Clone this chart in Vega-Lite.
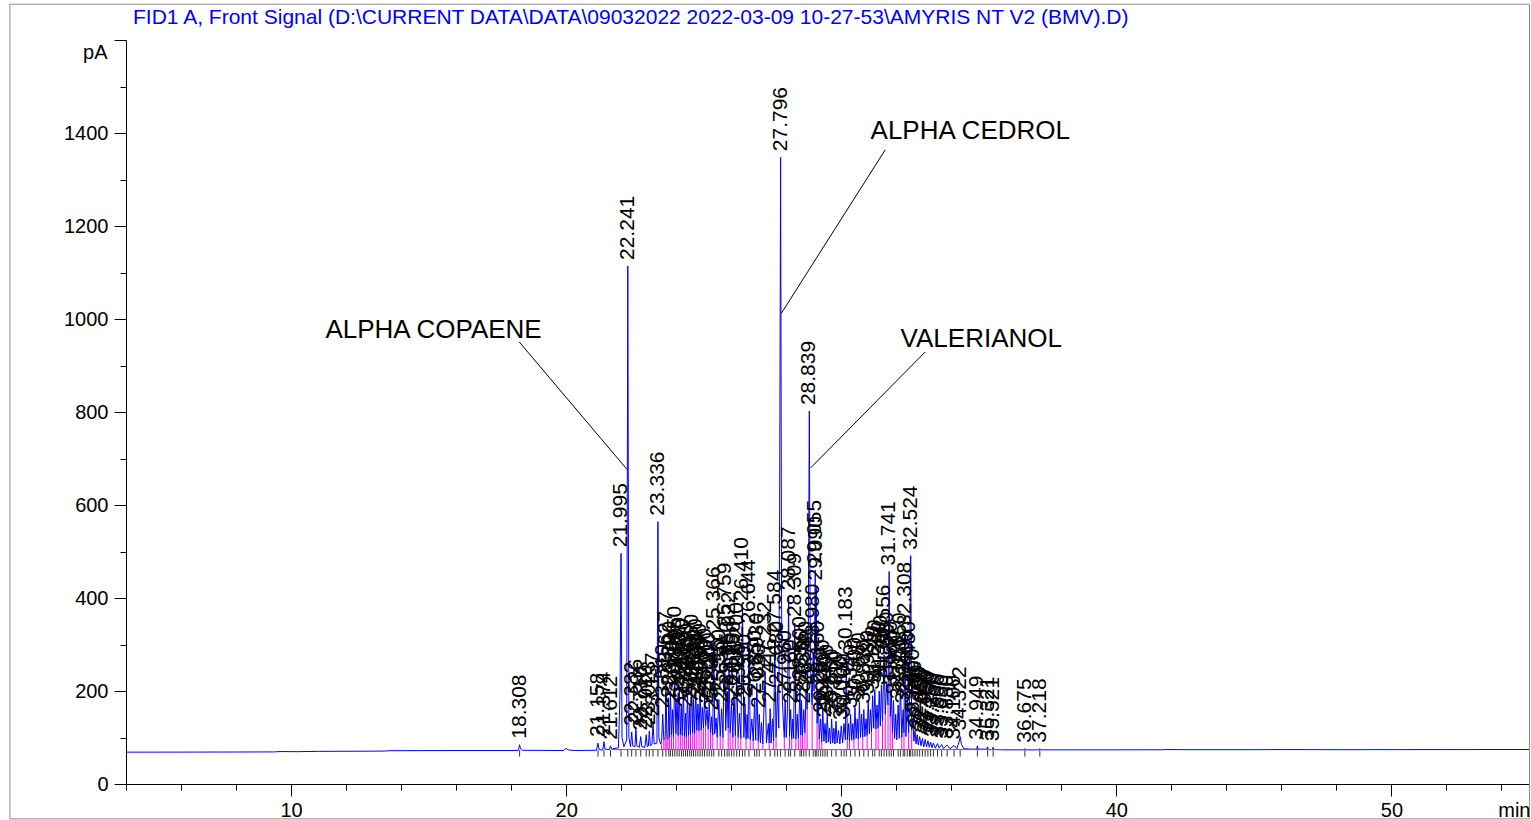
{
"$schema": "https://vega.github.io/schema/vega-lite/v6.json",
"width": 1403,
"height": 744,
"autosize": {"type": "none"},
"padding": {"left": 126, "top": 40, "right": 2, "bottom": 36},
"background": "white",
"config": {"view": {"stroke": null}, "font": "Liberation Sans",
  "axis": {"labelFont": "Liberation Sans", "titleFont": "Liberation Sans", "domainColor": "#000000", "tickColor": "#000000", "labelColor": "#000000", "titleColor": "#000000", "grid": false, "titleFontWeight": "normal"}},
"title": {"text": "FID1 A, Front Signal (D:\\CURRENT DATA\\DATA\\09032022 2022-03-09 10-27-53\\AMYRIS NT V2 (BMV).D)", "anchor": "start", "frame": "group", "dx": 7, "offset": -24, "color": "#0000ff", "fontSize": 21, "fontWeight": "normal", "font": "Liberation Sans"},
"datasets": {
"signal": [
{"t":4,"v":68.5},{"t":6,"v":68.6},{"t":8,"v":68.8},{"t":9.4,"v":69},{"t":9.6,"v":69.8},{"t":10.2,"v":69.5},{"t":11,"v":70.2},{"t":12.5,"v":70.5},{"t":13.4,"v":70.8},{"t":13.6,"v":71.6},{"t":16,"v":72},{"t":18.25,"v":72},{"t":18.29,"v":79},{"t":18.308,"v":84.5},{"t":18.34,"v":76},{"t":18.42,"v":72.5},{"t":19.9,"v":72},{"t":20.0,"v":76.5},{"t":20.1,"v":73},{"t":20.3,"v":72},{"t":21.1,"v":72.5},{"t":21.158,"v":88},{"t":21.2,"v":74},{"t":21.33,"v":73},{"t":21.374,"v":91},{"t":21.41,"v":75},{"t":21.57,"v":74},{"t":21.612,"v":82},{"t":21.65,"v":75},{"t":21.9,"v":78},{"t":21.96,"v":200},{"t":21.995,"v":496},{"t":22.03,"v":100},{"t":22.1,"v":80},{"t":22.2,"v":95},{"t":22.241,"v":1114},{"t":22.28,"v":100},{"t":22.34,"v":80},{"t":22.382,"v":112},{"t":22.42,"v":82},{"t":22.5,"v":80},{"t":22.536,"v":118},{"t":22.57,"v":82},{"t":22.66,"v":79},{"t":22.71,"v":102},{"t":22.75,"v":80},{"t":22.86,"v":79},{"t":22.91,"v":106},{"t":22.95,"v":80},{"t":22.99,"v":82},{"t":23.023,"v":114},{"t":23.06,"v":82},{"t":23.12,"v":85},{"t":23.157,"v":132},{"t":23.2,"v":86},{"t":23.3,"v":88},{"t":23.336,"v":564},{"t":23.37,"v":100},{"t":23.43,"v":86},{"t":23.47,"v":92},{"t":23.51,"v":150},{"t":23.55,"v":95},{"t":23.6,"v":100},{"t":23.627,"v":222},{"t":23.66,"v":102},{"t":23.7,"v":96},{"t":23.73,"v":172},{"t":23.76,"v":100},{"t":23.79,"v":200},{"t":23.83,"v":105},{"t":23.87,"v":160},{"t":23.9,"v":100},{"t":23.95,"v":232},{"t":23.99,"v":108},{"t":24.03,"v":185},{"t":24.07,"v":104},{"t":24.11,"v":212},{"t":24.15,"v":106},{"t":24.19,"v":172},{"t":24.22,"v":104},{"t":24.26,"v":205},{"t":24.3,"v":102},{"t":24.34,"v":152},{"t":24.37,"v":100},{"t":24.41,"v":195},{"t":24.45,"v":104},{"t":24.49,"v":168},{"t":24.52,"v":106},{"t":24.56,"v":215},{"t":24.6,"v":110},{"t":24.63,"v":182},{"t":24.67,"v":108},{"t":24.71,"v":205},{"t":24.75,"v":115},{"t":24.79,"v":172},{"t":24.83,"v":114},{"t":24.87,"v":195},{"t":24.91,"v":116},{"t":24.95,"v":165},{"t":24.99,"v":120},{"t":25.03,"v":185},{"t":25.07,"v":125},{"t":25.12,"v":160},{"t":25.16,"v":118},{"t":25.2,"v":175},{"t":25.25,"v":110},{"t":25.29,"v":145},{"t":25.33,"v":105},{"t":25.366,"v":317},{"t":25.4,"v":108},{"t":25.45,"v":142},{"t":25.49,"v":100},{"t":25.55,"v":182},{"t":25.6,"v":102},{"t":25.65,"v":162},{"t":25.7,"v":100},{"t":25.759,"v":325},{"t":25.8,"v":115},{"t":25.85,"v":200},{"t":25.89,"v":120},{"t":25.922,"v":262},{"t":25.96,"v":110},{"t":26.015,"v":172},{"t":26.06,"v":100},{"t":26.1,"v":200},{"t":26.15,"v":104},{"t":26.2,"v":240},{"t":26.25,"v":100},{"t":26.3,"v":152},{"t":26.35,"v":98},{"t":26.41,"v":380},{"t":26.46,"v":100},{"t":26.5,"v":172},{"t":26.54,"v":96},{"t":26.58,"v":150},{"t":26.61,"v":98},{"t":26.644,"v":332},{"t":26.69,"v":95},{"t":26.75,"v":140},{"t":26.8,"v":92},{"t":26.85,"v":180},{"t":26.89,"v":94},{"t":26.93,"v":217},{"t":26.98,"v":92},{"t":27.02,"v":150},{"t":27.06,"v":88},{"t":27.1,"v":132},{"t":27.15,"v":86},{"t":27.232,"v":242},{"t":27.28,"v":88},{"t":27.35,"v":130},{"t":27.38,"v":88},{"t":27.416,"v":162},{"t":27.45,"v":88},{"t":27.5,"v":140},{"t":27.54,"v":92},{"t":27.584,"v":310},{"t":27.63,"v":100},{"t":27.68,"v":200},{"t":27.73,"v":120},{"t":27.76,"v":600},{"t":27.796,"v":1348},{"t":27.83,"v":400},{"t":27.86,"v":180},{"t":27.9,"v":130},{"t":27.93,"v":100},{"t":27.96,"v":180},{"t":28.0,"v":100},{"t":28.04,"v":150},{"t":28.087,"v":403},{"t":28.12,"v":102},{"t":28.16,"v":160},{"t":28.2,"v":96},{"t":28.24,"v":140},{"t":28.27,"v":98},{"t":28.309,"v":346},{"t":28.35,"v":96},{"t":28.4,"v":150},{"t":28.44,"v":98},{"t":28.5,"v":210},{"t":28.53,"v":105},{"t":28.556,"v":180},{"t":28.59,"v":104},{"t":28.636,"v":160},{"t":28.68,"v":110},{"t":28.72,"v":200},{"t":28.76,"v":160},{"t":28.8,"v":300},{"t":28.839,"v":802},{"t":28.87,"v":330},{"t":28.9,"v":220},{"t":28.94,"v":170},{"t":28.98,"v":280},{"t":29.01,"v":200},{"t":29.055,"v":460},{"t":29.07,"v":280},{"t":29.09,"v":425},{"t":29.12,"v":130},{"t":29.16,"v":200},{"t":29.2,"v":96},{"t":29.25,"v":140},{"t":29.29,"v":90},{"t":29.33,"v":160},{"t":29.37,"v":92},{"t":29.41,"v":130},{"t":29.45,"v":88},{"t":29.49,"v":150},{"t":29.53,"v":90},{"t":29.57,"v":120},{"t":29.61,"v":86},{"t":29.65,"v":140},{"t":29.69,"v":88},{"t":29.73,"v":120},{"t":29.77,"v":86},{"t":29.81,"v":135},{"t":29.85,"v":88},{"t":29.9,"v":115},{"t":29.95,"v":86},{"t":30.0,"v":125},{"t":30.05,"v":88},{"t":30.1,"v":130},{"t":30.15,"v":95},{"t":30.183,"v":274},{"t":30.22,"v":95},{"t":30.26,"v":130},{"t":30.3,"v":92},{"t":30.34,"v":150},{"t":30.38,"v":94},{"t":30.42,"v":130},{"t":30.46,"v":95},{"t":30.5,"v":165},{"t":30.54,"v":98},{"t":30.58,"v":140},{"t":30.62,"v":96},{"t":30.66,"v":175},{"t":30.7,"v":100},{"t":30.74,"v":150},{"t":30.78,"v":100},{"t":30.82,"v":160},{"t":30.86,"v":102},{"t":30.9,"v":140},{"t":30.94,"v":104},{"t":30.98,"v":180},{"t":31.02,"v":108},{"t":31.06,"v":160},{"t":31.1,"v":112},{"t":31.14,"v":190},{"t":31.18,"v":120},{"t":31.22,"v":203},{"t":31.26,"v":118},{"t":31.3,"v":170},{"t":31.34,"v":120},{"t":31.38,"v":200},{"t":31.42,"v":125},{"t":31.46,"v":213},{"t":31.5,"v":135},{"t":31.556,"v":278},{"t":31.6,"v":150},{"t":31.65,"v":220},{"t":31.7,"v":170},{"t":31.741,"v":457},{"t":31.78,"v":145},{"t":31.82,"v":200},{"t":31.86,"v":110},{"t":31.9,"v":180},{"t":31.94,"v":98},{"t":31.98,"v":150},{"t":32.02,"v":95},{"t":32.07,"v":170},{"t":32.11,"v":98},{"t":32.15,"v":218},{"t":32.2,"v":100},{"t":32.25,"v":160},{"t":32.28,"v":110},{"t":32.308,"v":327},{"t":32.35,"v":102},{"t":32.4,"v":180},{"t":32.45,"v":110},{"t":32.48,"v":200},{"t":32.524,"v":491},{"t":32.56,"v":115},{"t":32.6,"v":140},{"t":32.64,"v":92},{"t":32.68,"v":115},{"t":32.72,"v":86},{"t":32.76,"v":106},{"t":32.8,"v":84},{"t":32.85,"v":102},{"t":32.9,"v":82},{"t":32.95,"v":98},{"t":33.0,"v":80},{"t":33.05,"v":96},{"t":33.1,"v":80},{"t":33.15,"v":93},{"t":33.2,"v":79},{"t":33.25,"v":90},{"t":33.3,"v":78},{"t":33.35,"v":88},{"t":33.42,"v":77},{"t":33.5,"v":87},{"t":33.56,"v":77},{"t":33.65,"v":85},{"t":33.72,"v":76},{"t":33.85,"v":84},{"t":33.95,"v":76},{"t":34.1,"v":83},{"t":34.2,"v":76},{"t":34.28,"v":90},{"t":34.322,"v":102},{"t":34.37,"v":85},{"t":34.45,"v":76},{"t":34.7,"v":75},{"t":34.92,"v":75},{"t":34.949,"v":82},{"t":34.98,"v":75},{"t":35.29,"v":75},{"t":35.321,"v":80},{"t":35.35,"v":74},{"t":35.49,"v":74},{"t":35.521,"v":79},{"t":35.55,"v":74},{"t":36.0,"v":73.5},{"t":36.65,"v":73.5},{"t":36.675,"v":76},{"t":36.7,"v":73.5},{"t":37.19,"v":73.5},{"t":37.218,"v":76},{"t":37.25,"v":73.5},{"t":38,"v":73.5},{"t":40,"v":73.5},{"t":41.6,"v":73.6},{"t":41.8,"v":74},{"t":42.5,"v":73.8},{"t":45,"v":73.8},{"t":46,"v":74},{"t":48,"v":73.8},{"t":52,"v":74},{"t":55,"v":74.2}
],
"peaks": [
{"rt":18.308,"h":84.5,"lo":59,"hi":73},{"rt":21.158,"h":88,"lo":59,"hi":73},{"rt":21.374,"h":91,"lo":59,"hi":73},{"rt":21.612,"h":82,"lo":59,"hi":73},{"rt":21.995,"h":496,"lo":59,"hi":73},{"rt":22.241,"h":1114,"lo":59,"hi":73},{"rt":22.382,"h":112,"lo":59,"hi":73},{"rt":22.536,"h":118,"lo":59,"hi":73},{"rt":22.71,"h":102,"lo":59,"hi":73},{"rt":22.91,"h":106,"lo":59,"hi":73},{"rt":23.023,"h":114,"lo":59,"hi":73},{"rt":23.157,"h":132,"lo":59,"hi":73},{"rt":23.336,"h":564,"lo":59,"hi":73},{"rt":23.51,"h":150,"lo":59,"hi":73},{"rt":23.627,"h":222,"lo":59,"hi":73},{"rt":23.73,"h":172,"lo":59,"hi":73},{"rt":23.79,"h":200,"lo":59,"hi":73},{"rt":23.87,"h":160,"lo":59,"hi":73},{"rt":23.95,"h":232,"lo":59,"hi":73},{"rt":24.03,"h":185,"lo":59,"hi":73},{"rt":24.11,"h":212,"lo":59,"hi":73},{"rt":24.19,"h":172,"lo":59,"hi":73},{"rt":24.26,"h":205,"lo":59,"hi":73},{"rt":24.34,"h":152,"lo":59,"hi":73},{"rt":24.41,"h":195,"lo":59,"hi":73},{"rt":24.49,"h":168,"lo":59,"hi":73},{"rt":24.56,"h":215,"lo":59,"hi":73},{"rt":24.63,"h":182,"lo":59,"hi":73},{"rt":24.71,"h":205,"lo":59,"hi":73},{"rt":24.79,"h":172,"lo":59,"hi":73},{"rt":24.87,"h":195,"lo":59,"hi":73},{"rt":24.95,"h":165,"lo":59,"hi":73},{"rt":25.03,"h":185,"lo":59,"hi":73},{"rt":25.12,"h":160,"lo":59,"hi":73},{"rt":25.2,"h":175,"lo":59,"hi":73},{"rt":25.29,"h":145,"lo":59,"hi":73},{"rt":25.366,"h":317,"lo":59,"hi":73},{"rt":25.55,"h":182,"lo":59,"hi":73},{"rt":25.65,"h":162,"lo":59,"hi":73},{"rt":25.759,"h":325,"lo":59,"hi":73},{"rt":25.85,"h":200,"lo":59,"hi":73},{"rt":25.922,"h":262,"lo":59,"hi":73},{"rt":26.015,"h":172,"lo":59,"hi":73},{"rt":26.1,"h":200,"lo":59,"hi":73},{"rt":26.2,"h":240,"lo":59,"hi":73},{"rt":26.3,"h":152,"lo":59,"hi":73},{"rt":26.41,"h":380,"lo":59,"hi":73},{"rt":26.5,"h":172,"lo":59,"hi":73},{"rt":26.644,"h":332,"lo":59,"hi":73},{"rt":26.85,"h":180,"lo":59,"hi":73},{"rt":26.93,"h":217,"lo":59,"hi":73},{"rt":27.02,"h":150,"lo":59,"hi":73},{"rt":27.232,"h":242,"lo":59,"hi":73},{"rt":27.416,"h":162,"lo":59,"hi":73},{"rt":27.584,"h":310,"lo":59,"hi":73},{"rt":27.68,"h":200,"lo":59,"hi":73},{"rt":27.796,"h":1348,"lo":59,"hi":73},{"rt":27.96,"h":180,"lo":59,"hi":73},{"rt":28.087,"h":403,"lo":59,"hi":73},{"rt":28.16,"h":160,"lo":59,"hi":73},{"rt":28.309,"h":346,"lo":59,"hi":73},{"rt":28.5,"h":210,"lo":59,"hi":73},{"rt":28.556,"h":180,"lo":59,"hi":73},{"rt":28.636,"h":160,"lo":59,"hi":73},{"rt":28.72,"h":200,"lo":59,"hi":73},{"rt":28.839,"h":802,"lo":59,"hi":73},{"rt":28.98,"h":280,"lo":59,"hi":73},{"rt":29.055,"h":460,"lo":59,"hi":73},{"rt":29.09,"h":425,"lo":59,"hi":73},{"rt":29.16,"h":200,"lo":59,"hi":73},{"rt":29.25,"h":140,"lo":59,"hi":73},{"rt":29.33,"h":160,"lo":59,"hi":73},{"rt":29.41,"h":130,"lo":59,"hi":73},{"rt":29.49,"h":150,"lo":59,"hi":73},{"rt":29.65,"h":140,"lo":59,"hi":73},{"rt":29.81,"h":135,"lo":59,"hi":73},{"rt":30.0,"h":125,"lo":59,"hi":73},{"rt":30.1,"h":130,"lo":59,"hi":73},{"rt":30.183,"h":274,"lo":59,"hi":73},{"rt":30.34,"h":150,"lo":59,"hi":73},{"rt":30.5,"h":165,"lo":59,"hi":73},{"rt":30.66,"h":175,"lo":59,"hi":73},{"rt":30.82,"h":160,"lo":59,"hi":73},{"rt":30.98,"h":180,"lo":59,"hi":73},{"rt":31.14,"h":190,"lo":59,"hi":73},{"rt":31.22,"h":203,"lo":59,"hi":73},{"rt":31.38,"h":200,"lo":59,"hi":73},{"rt":31.46,"h":213,"lo":59,"hi":73},{"rt":31.556,"h":278,"lo":59,"hi":73},{"rt":31.65,"h":220,"lo":59,"hi":73},{"rt":31.741,"h":457,"lo":59,"hi":73},{"rt":31.82,"h":200,"lo":59,"hi":73},{"rt":31.9,"h":180,"lo":59,"hi":73},{"rt":32.07,"h":170,"lo":59,"hi":73},{"rt":32.15,"h":218,"lo":59,"hi":73},{"rt":32.25,"h":160,"lo":59,"hi":73},{"rt":32.308,"h":327,"lo":59,"hi":73},{"rt":32.4,"h":180,"lo":59,"hi":73},{"rt":32.48,"h":200,"lo":59,"hi":73},{"rt":32.524,"h":491,"lo":59,"hi":73},{"rt":32.6,"h":140,"lo":59,"hi":73},{"rt":32.68,"h":115,"lo":59,"hi":73},{"rt":32.76,"h":106,"lo":59,"hi":73},{"rt":32.85,"h":102,"lo":59,"hi":73},{"rt":32.95,"h":98,"lo":59,"hi":73},{"rt":33.05,"h":96,"lo":59,"hi":73},{"rt":33.15,"h":93,"lo":59,"hi":73},{"rt":33.25,"h":90,"lo":59,"hi":73},{"rt":33.35,"h":88,"lo":59,"hi":73},{"rt":33.5,"h":87,"lo":59,"hi":73},{"rt":33.65,"h":85,"lo":59,"hi":73},{"rt":33.85,"h":84,"lo":59,"hi":73},{"rt":34.1,"h":83,"lo":59,"hi":73},{"rt":34.322,"h":102,"lo":59,"hi":73},{"rt":34.949,"h":82,"lo":59,"hi":73},{"rt":35.321,"h":80,"lo":59,"hi":73},{"rt":35.521,"h":79,"lo":59,"hi":73},{"rt":36.675,"h":76,"lo":59,"hi":73},{"rt":37.218,"h":76,"lo":59,"hi":73}
],
"drops": [
{"t":23.47,"top":92,"base":74},{"t":23.55,"top":95,"base":74},{"t":23.6,"top":100,"base":74},{"t":23.66,"top":102,"base":74},{"t":23.7,"top":96,"base":74},{"t":23.76,"top":100,"base":74},{"t":23.83,"top":105,"base":74},{"t":23.9,"top":100,"base":74},{"t":23.99,"top":108,"base":74},{"t":24.07,"top":104,"base":74},{"t":24.15,"top":106,"base":74},{"t":24.22,"top":104,"base":74},{"t":24.3,"top":102,"base":74},{"t":24.37,"top":100,"base":74},{"t":24.45,"top":104,"base":74},{"t":24.52,"top":106,"base":74},{"t":24.6,"top":110,"base":74},{"t":24.67,"top":108,"base":74},{"t":24.75,"top":115,"base":74},{"t":24.83,"top":114,"base":74},{"t":24.91,"top":116,"base":74},{"t":24.99,"top":120,"base":74},{"t":25.07,"top":125,"base":74},{"t":25.16,"top":118,"base":74},{"t":25.25,"top":110,"base":74},{"t":25.33,"top":105,"base":74},{"t":25.49,"top":100,"base":74},{"t":25.6,"top":102,"base":74},{"t":25.7,"top":100,"base":74},{"t":25.89,"top":120,"base":74},{"t":25.96,"top":110,"base":74},{"t":26.06,"top":100,"base":74},{"t":26.15,"top":104,"base":74},{"t":26.25,"top":100,"base":74},{"t":26.35,"top":98,"base":74},{"t":26.54,"top":96,"base":74},{"t":26.69,"top":95,"base":74},{"t":26.8,"top":92,"base":74},{"t":26.98,"top":92,"base":74},{"t":27.15,"top":86,"base":74},{"t":27.38,"top":88,"base":74},{"t":27.54,"top":92,"base":74},{"t":27.63,"top":100,"base":74},{"t":27.93,"top":100,"base":74},{"t":28.12,"top":102,"base":74},{"t":28.2,"top":96,"base":74},{"t":28.35,"top":96,"base":74},{"t":28.44,"top":98,"base":74},{"t":28.53,"top":105,"base":74},{"t":28.59,"top":104,"base":74},{"t":28.68,"top":110,"base":74},{"t":28.76,"top":160,"base":74},{"t":28.94,"top":170,"base":74},{"t":29.12,"top":130,"base":74},{"t":29.2,"top":96,"base":74},{"t":29.29,"top":90,"base":74},{"t":30.22,"top":95,"base":74},{"t":30.3,"top":92,"base":74},{"t":30.46,"top":95,"base":74},{"t":30.62,"top":96,"base":74},{"t":30.78,"top":100,"base":74},{"t":30.94,"top":104,"base":74},{"t":31.1,"top":112,"base":74},{"t":31.26,"top":118,"base":74},{"t":31.34,"top":120,"base":74},{"t":31.5,"top":135,"base":74},{"t":31.6,"top":150,"base":74},{"t":31.7,"top":170,"base":74},{"t":31.78,"top":145,"base":74},{"t":31.86,"top":110,"base":74},{"t":32.2,"top":100,"base":74},{"t":32.28,"top":110,"base":74},{"t":32.45,"top":110,"base":74},{"t":32.56,"top":115,"base":74}
],
"notes": [
{"label":"ALPHA COPAENE","t":15.18,"v":976},{"label":"ALPHA CEDROL","t":34.69,"v":1404},{"label":"VALERIANOL","t":35.09,"v":957}
],
"leaders": [
{"t":18.29,"v":951,"t2":22.22,"v2":676},{"t":31.6,"v":1364,"t2":27.82,"v2":1012},{"t":33.05,"v":929,"t2":28.89,"v2":680}
],
"frame": [
{"t":-0.22,"v":1677,"t2":-0.22,"v2":-75},{"t":-0.22,"v":1677,"t2":55.02,"v2":1677},{"t":55.02,"v":1677,"t2":55.02,"v2":-75},{"t":-0.22,"v":-75,"t2":55.02,"v2":-75}
],
"base": [
{"t":21.65,"v":74,"t2":37.6,"v2":74}
]
},
"layer": [
{"data": {"name": "frame"},
 "mark": {"type": "rule", "color": "#8a8a8a", "strokeWidth": 1, "clip": false},
 "encoding": {"x": {"field": "t", "type": "quantitative"}, "x2": {"field": "t2"}, "y": {"field": "v", "type": "quantitative"}, "y2": {"field": "v2"}}},
{"data": {"name": "signal"},
 "mark": {"type": "line", "color": "#0000ff", "strokeWidth": 1},
 "encoding": {
  "x": {"field": "t", "type": "quantitative", "scale": {"domain": [4, 55], "nice": false, "zero": false},
        "axis": {"orient": "bottom", "values": [4,6,8,10,12,14,16,18,20,22,24,26,28,30,32,34,36,38,40,42,44,46,48,50,52,54], "labelExpr": "datum.value % 10 === 0 ? datum.label : ''", "labelOverlap": false, "tickSize": {"condition": {"test": "datum.value % 10 === 0", "value": 12}, "value": 6}, "labelPadding": 4, "labelFontSize": 20, "format": "d", "labelFlush": false, "title": "min", "titleFontSize": 20, "titleX": 1404, "titleY": 32, "titleAlign": "right", "titleBaseline": "alphabetic"}},
  "y": {"field": "v", "type": "quantitative", "scale": {"domain": [0, 1600], "nice": false, "zero": false},
        "axis": {"orient": "left", "values": [0,50,100,150,200,250,300,350,400,450,500,550,600,650,700,750,800,850,900,950,1000,1050,1100,1150,1200,1250,1300,1350,1400,1450,1500,1550,1600], "format": "d", "labelExpr": "(datum.value % 200 === 0 && datum.value < 1600) ? datum.label : ''", "labelOverlap": false, "tickSize": {"condition": {"test": "datum.value % 200 === 0", "value": 12}, "value": 6}, "labelPadding": 6, "labelFontSize": 20, "title": "pA", "titleFontSize": 20, "titleAngle": 0, "titleAlign": "right", "titleBaseline": "alphabetic", "titleX": -19, "titleY": 18}}
 }},
{"data": {"name": "drops"},
 "mark": {"type": "rule", "color": "#ff00ff", "strokeWidth": 1},
 "encoding": {"x": {"field": "t", "type": "quantitative"}, "x2": {"field": "t"}, "y": {"field": "base", "type": "quantitative"}, "y2": {"field": "top"}}},
{"data": {"name": "base"},
 "mark": {"type": "rule", "color": "#ff00ff", "strokeWidth": 1},
 "encoding": {"x": {"field": "t", "type": "quantitative"}, "x2": {"field": "t2"}, "y": {"field": "v", "type": "quantitative"}, "y2": {"field": "v2"}}},
{"data": {"name": "peaks"},
 "mark": {"type": "rule", "color": "#333333", "strokeWidth": 1},
 "encoding": {"x": {"field": "rt", "type": "quantitative"}, "x2": {"field": "rt"}, "y": {"field": "lo", "type": "quantitative"}, "y2": {"field": "hi"}}},
{"data": {"name": "peaks"},
 "mark": {"type": "text", "angle": 270, "align": "left", "baseline": "middle", "dx": 6, "fontSize": 21, "color": "#000000"},
 "encoding": {"x": {"field": "rt", "type": "quantitative"}, "y": {"field": "h", "type": "quantitative"}, "text": {"field": "rt", "type": "quantitative", "format": ".3f"}}},
{"data": {"name": "notes"},
 "mark": {"type": "text", "align": "center", "baseline": "middle", "fontSize": 26, "color": "#000000"},
 "encoding": {"x": {"field": "t", "type": "quantitative"}, "y": {"field": "v", "type": "quantitative"}, "text": {"field": "label", "type": "nominal"}}},
{"data": {"name": "leaders"},
 "mark": {"type": "rule", "color": "#000000", "strokeWidth": 1},
 "encoding": {"x": {"field": "t", "type": "quantitative"}, "x2": {"field": "t2"}, "y": {"field": "v", "type": "quantitative"}, "y2": {"field": "v2"}}}
]
}
